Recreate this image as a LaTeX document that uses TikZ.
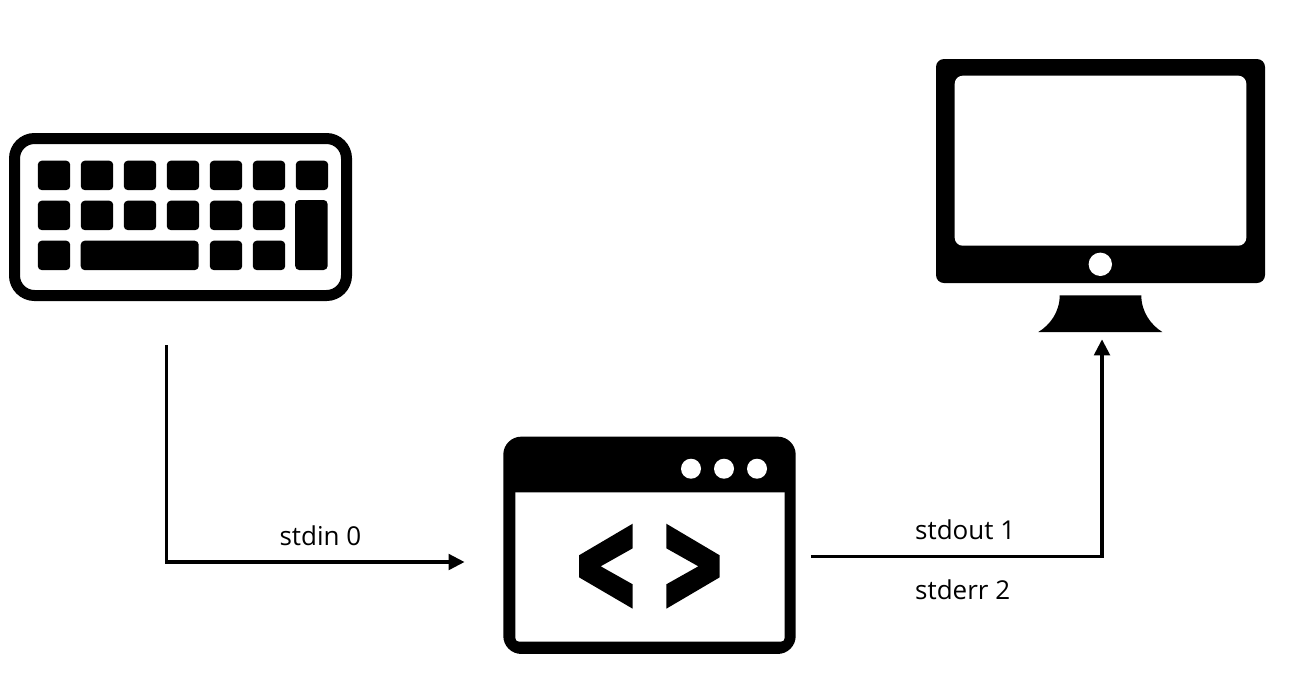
\documentclass[tikz,border=0pt]{standalone}
\usepackage{fontspec}
\setmainfont{Open Sans}
\usetikzlibrary{positioning,arrows.meta}

\begin{document}
\begin{tikzpicture}[x=1pt, y=-1pt,
  mykey/.style={fill=black, inner sep=0pt, rounded corners=4pt, minimum width=32.4pt, minimum height=29.4pt},
  mycontainer/.style={draw=black, line width=11pt, inner sep=0pt, rounded corners=20pt},
  myblock/.style={fill=black, inner sep=0pt},
  myscreen/.style={fill=white, inner sep=0pt, rounded corners=8pt},
  mydot/.style={circle, fill=white, inner sep=0pt},
  mylabel/.style={inner sep=0pt, anchor=base west, font=\fontsize{26}{30}\selectfont},
  myarrow/.style={line width=3.5pt, -{Triangle[length=16pt,width=15.5pt]}}
  ]
  \useasboundingbox (0,0) rectangle (1295,673);

  % keyboard
  \node[mycontainer, minimum width=332pt, minimum height=157pt] (keyboard) at (180.5,217) {};
  \foreach \c in {0,...,6}
    \node[mykey] (keya\c) at (54+43*\c,175.4) {};
  \foreach \c in {0,...,5}
    \node[mykey] (keyb\c) at (54+43*\c,215.4) {};
  \node[mykey] (keyc0) at (54,255.4) {};
  \node[mykey, minimum width=118pt] (space) at (139.7,255.4) {};
  \node[mykey] (keyc4) at (226,255.4) {};
  \node[mykey] (keyc5) at (269,255.4) {};
  \node[mykey, minimum height=70pt] (tallkey) at (311.4,235) {};

  % program window
  \node[myblock, rounded corners=18pt, minimum width=292.4pt, minimum height=217.3pt] (app) at (649.5,545.3) {};
  \fill[white] (515.3,492.3) {[rounded corners=4pt] -- (515.3,641.7) -- (784.7,641.7)} -- (784.7,492.3) -- cycle;
  \foreach \x/\n in {691/a,724/b,757/c}
    \node[mydot, minimum size=20pt] (dot\n) at (\x,468.7) {};
  \fill (632.7,523.7) -- (579,555.3) -- (579,577.3) -- (632.7,608.7) -- (632.7,584.3) -- (600.7,566.3) -- (632.7,548.3) -- cycle;
  \fill (666.3,523.7) -- (719.7,555.3) -- (719.7,577.3) -- (666.3,608.7) -- (666.3,584.3) -- (698.3,566.3) -- (666.3,548.3) -- cycle;

  % monitor
  \node[myblock, rounded corners=8pt, minimum width=329pt, minimum height=224pt] (monitor) at (1100.5,171) {};
  \node[myscreen, minimum width=291.6pt, minimum height=170pt] (screen) at (1100.5,160.7) {};
  \node[mydot, minimum size=23.4pt] (power) at (1100.3,264.3) {};
  \fill (1059.7,295.3) -- (1141.3,295.3) .. controls (1141.3,312) and (1151,325) .. (1162.3,332)
    -- (1038.3,332) .. controls (1050,325) and (1059.7,312) .. (1059.7,295.3) -- cycle;

  \coordinate (kbout) at ([xshift=-14pt,yshift=-44pt]keyboard.south);
  \coordinate (appin) at ([xshift=-38.5pt,yshift=-16.7pt]app.west);
  \coordinate (appout) at ([xshift=15pt,yshift=-11.2pt]app.east);
  \coordinate (monin) at (1102,339.3);

  \draw[myarrow] (kbout) |- (appin);
  \draw[myarrow] (appout) -| (monin);

  \node[mylabel] (stdin) at (279.3,545.7) {stdin 0};
  \node[mylabel] (stdout) at (915,539.3) {stdout 1};
  \node[mylabel] (stderr) at (915,599) {stderr 2};
\end{tikzpicture}
\end{document}
